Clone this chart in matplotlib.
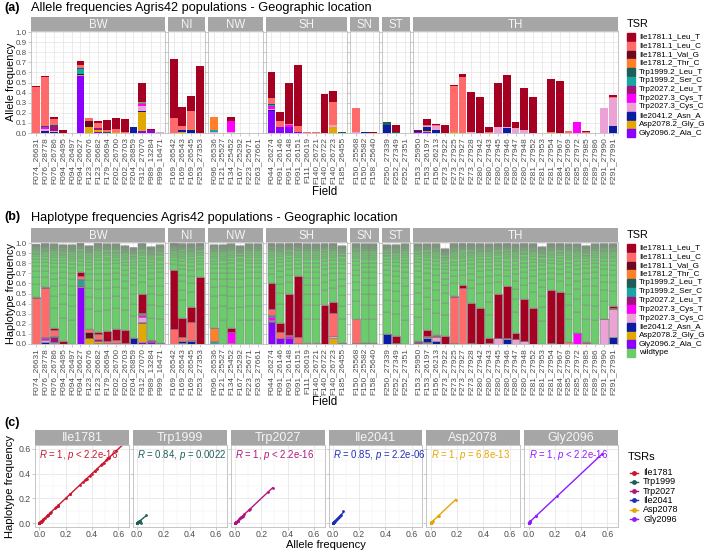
import numpy as np
import matplotlib
matplotlib.use("Agg")
import matplotlib.pyplot as plt
from matplotlib.patches import Rectangle
from matplotlib.lines import Line2D

plt.rcParams['font.family'] = ['Liberation Sans', 'DejaVu Sans']
plt.rcParams['mathtext.fontset'] = 'custom'
plt.rcParams['mathtext.it'] = 'Liberation Sans:italic'
plt.rcParams['mathtext.rm'] = 'Liberation Sans'

# --- fields per region ---
regions = ['BW', 'NI', 'NW', 'SH', 'SN', 'ST', 'TH']
fields_BW = ['F074_26631', 'F076_28778', 'F076_26786', 'F094_26495', 'F094_26497', 'F094_26627',
             'F123_26676', 'F123_26682', 'F179_26694', 'F202_26700', 'F202_26703', 'F204_26859',
             'F312_27070', 'F989_13284', 'F999_16471']
fields_NI = ['F169_26542', 'F169_26543', 'F169_26545', 'F253_27353']
fields_NW = ['F096_26536', 'F121_25527', 'F134_25452', 'F167_25292', 'F223_25671', 'F263_27661']
fields_SH = ['F044_26274', 'F091_26146', 'F091_26148', 'F091_26151', 'F111_26019', 'F140_26721',
             'F140_26722', 'F140_26723', 'F185_26455']
fields_SN = ['F150_25568', 'F150_25582', 'F158_25640']
fields_ST = ['F250_27339', 'F252_27349', 'F252_27351']
fields_TH = ['F153_25950', 'F153_26197', 'F156_26213', 'F273_27922', 'F273_27925', 'F273_27927',
             'F273_27928', 'F280_27942', 'F280_27943', 'F280_27945', 'F280_27946', 'F280_27947',
             'F280_27948', 'F281_27952', 'F281_27953', 'F281_27954', 'F284_27967', 'F285_27969',
             'F285_27972', 'F289_27985', 'F289_27986', 'F291_27990', 'F291_27991']
region_fields = [fields_BW, fields_NI, fields_NW, fields_SH, fields_SN, fields_ST, fields_TH]
all_fields = sum(region_fields, [])

# --- allele frequencies per TSR (order BW | NI | NW | SH | SN | ST | TH) ---
ile1781_leu_t = ([.01, .01, .02, .03, 0, .035, 0, .015, .10, .11, .13, 0, .195, .01, 0]
                 + [.59, .19, .145, .665]
                 + [0, 0, .035, 0, 0, 0]
                 + [.255, .085, .41, .61, 0, 0, .385, .11, 0]
                 + [0, 0, .012]
                 + [0, .065, 0]
                 + [.012, .055, .01, .08, .01, .03, .40, .355, .05, .44, .515, .055, .42, .36, 0,
                    .525, .51, 0, 0, .015, 0, 0, .015])
ile1781_leu_c = ([.46, .48, .06, 0, 0, .03, .03, .05, .02, .03, .01, 0, .005, 0, 0]
                 + [.145, .045, .18, 0]
                 + [.005, 0, .005, 0, 0, 0]
                 + [.055, .06, .015, .055, .008, .008, 0, .235, 0]
                 + [.235, 0, 0]
                 + [0, 0, 0]
                 + [0, .01, .01, 0, .465, .55, 0, 0, .01, 0, 0, 0, 0, 0, 0, 0, 0, .015, 0, .005, 0,
                    0, .01])
ile1781_val_g = ([0, 0, 0, 0, 0, 0, .06, 0, 0, 0, 0, 0, 0, 0, 0]
                 + [0] * 4 + [0] * 6 + [0] * 9 + [0] * 3 + [0] * 3 + [0] * 23)
ile1781_thr_c = ([0] * 15
                 + [0, 0, .01, 0]
                 + [.125, 0, 0, 0, 0, 0]
                 + [0] * 9 + [0] * 3 + [0] * 3
                 + [0] * 15 + [.005] + [0] * 7)
trp1999_leu_t = ([0, .01, .01, 0, 0, .01, 0, 0, .01, 0, 0, 0, .005, 0, 0]
                 + [0] * 4 + [0] * 6
                 + [.01, 0, 0, 0, 0, 0, 0, 0, .012]
                 + [0] * 3
                 + [.03, .01, 0]
                 + [0] * 23)
trp1999_ser_c = ([0, 0, 0, 0, 0, .055, 0, 0, 0, 0, 0, 0, .01, 0, 0]
                 + [0] * 4
                 + [.02, 0, 0, 0, 0, 0]
                 + [.01, 0, 0, 0, 0, 0, 0, 0, 0]
                 + [0] * 3 + [0] * 3 + [0] * 23)
trp2027_leu_t = ([0, 0, .05, 0, 0, 0, 0, .02, 0, 0, 0, 0, 0, .01, 0]
                 + [0] * 4 + [0] * 6 + [0] * 9 + [0] * 3 + [0] * 3 + [0] * 23)
trp2027_cys_t = ([0, .02, 0, 0, 0, 0, 0, 0, 0, 0, 0, 0, .02, 0, .005]
                 + [0] * 4
                 + [0, 0, .105, 0, 0, 0]
                 + [.03, 0, .02, 0, 0, 0, 0, 0, 0]
                 + [0] * 3 + [0] * 3
                 + [.005] + [0] * 17 + [.105] + [0] * 4)
trp2027_cys_c = ([0, .02, .01, 0, 0, 0, 0, 0, 0, 0, 0, 0, .05, 0, .005]
                 + [0] * 4
                 + [.01, 0, .01, 0, 0, 0]
                 + [.01, 0, 0, 0, 0, 0, 0, .02, 0]
                 + [.01, 0, 0]
                 + [0] * 3
                 + [0, .01, .045, 0, 0, 0, .01, 0, 0, .06, .005, .05, .03, 0, 0, 0, 0, 0, 0, 0, 0,
                    .25, .285])
ile2041_asn_a = ([0, .02, .01, 0, 0, .01, 0, 0, 0, 0, 0, .055, .01, 0, 0]
                 + [0, .02, .03, 0]
                 + [0] * 6
                 + [.01, 0, 0, 0, 0, 0, 0, 0, 0]
                 + [0, .012, 0]
                 + [.08, 0, 0]
                 + [.01, .04, .025, 0, 0, 0, 0, 0, 0, 0, .05, 0, 0, 0, 0, 0, 0, 0, 0, 0, 0, 0, .065])
asp2078_gly_g = ([0, 0, 0, 0, 0, .01, .06, .02, 0, .01, 0, 0, .19, 0, 0]
                 + [0, .005, 0, 0]
                 + [0] * 6
                 + [0, 0, 0, 0, 0, 0, 0, .055, 0]
                 + [0] * 3 + [0] * 3
                 + [0, .01, 0, 0, .005] + [0] * 18)
gly2096_ala_c = ([0, 0, 0, 0, 0, .56, 0, .01, 0, 0, 0, 0, .015, .015, 0]
                 + [0] * 4 + [0] * 6
                 + [.22, .06, .055, .01, 0, 0, 0, 0, 0]
                 + [0] * 3 + [0] * 3
                 + [.005, .01] + [0] * 21)

tsr_names = ['Ile1781.1_Leu_T', 'Ile1781.1_Leu_C', 'Ile1781.1_Val_G', 'Ile1781.2_Thr_C',
             'Trp1999.2_Leu_T', 'Trp1999.2_Ser_C', 'Trp2027.2_Leu_T', 'Trp2027.3_Cys_T',
             'Trp2027.3_Cys_C', 'Ile2041.2_Asn_A', 'Asp2078.2_Gly_G', 'Gly2096.2_Ala_C']
tsr_colors = ['#A50021', '#FF6A6A', '#6A0A1E', '#FF7F2A', '#1E5E58', '#1AA5A5',
              '#A3117A', '#FF00FF', '#EBA3D6', '#0A1CA3', '#E0A800', '#8C00FF']
wt_color = '#6CCB6C'
allele = [ile1781_leu_t, ile1781_leu_c, ile1781_val_g, ile1781_thr_c, trp1999_leu_t,
          trp1999_ser_c, trp2027_leu_t, trp2027_cys_t, trp2027_cys_c, ile2041_asn_a,
          asp2078_gly_g, gly2096_ala_c]

# haplotype frequencies: same as allele except these fields
hap_override = {('F250_27339', 'Ile2041.2_Asn_A'): 0.10,
                ('F250_27339', 'Trp1999.2_Leu_T'): 0.0}
# total haplotype frequency covered per field (top of bars in b)
hap_total = ([.985, .99, .99, .98, .98, .99, .97, .995, .99, .99, .97, .955, .99, .96, .98]
             + [.99, .99, .99, .99]
             + [.98, .98, .99, .97, .99, .99]
             + [.99, .99, .99, .99, .99, .99, .99, .99, .97]
             + [.99, .99, .99]
             + [.98, .98, .99]
             + [.99, .99, .99, .94, .99, .99, .99, .99, .99, .99, .99, .99, .99, .99, .96, .99,
                .99, .99, .99, .97, .99, .99, .99])
# share of the wildtype part taken by each wildtype haplotype (bottom to top)
wt_hap_share = [0.24, 0.14, 0.11, 0.09, 0.075, 0.06, 0.05, 0.04, 0.033, 0.027, 0.022, 0.018,
                0.015, 0.012, 0.01, 0.008, 0.007, 0.006, 0.005, 0.004, 0.004, 0.003, 0.003,
                0.003, 0.002, 0.002, 0.002, 0.002]

# panel c
c_names = ['Ile1781', 'Trp1999', 'Trp2027', 'Ile2041', 'Asp2078', 'Gly2096']
c_members = [[0, 1, 2, 3], [4, 5], [6, 7, 8], [9], [10], [11]]
c_colors = ['#C8162E', '#1E5E58', '#B0157F', '#1F2EB8', '#E6A500', '#8F1CFF']
c_r = ['1', '0.84', '1', '0.85', '1', '1']
c_p = ['< 2.2e-16', '= 0.0022', '< 2.2e-16', '= 2.2e-06', '= 6.8e-13', '< 2.2e-16']

hap = [list(a) for a in allele]
for (f, t), v in hap_override.items():
    hap[tsr_names.index(t)][all_fields.index(f)] = v

W, H = 709, 552
fig = plt.figure(figsize=(W / 100, H / 100), dpi=100)
STRIP = '#A6A6A6'
GRID = '#E3E3E3'
TICKC = '#4D4D4D'


def fbox(x0, y0, x1, y1):
    return [x0 / W, 1 - y1 / H, (x1 - x0) / W, (y1 - y0) / H]


def ftext(x, y, s, **kw):
    return fig.text(x / W, 1 - y / H, s, **kw)


def strip(x0, y0, x1, y1, label, size):
    sax = fig.add_axes(fbox(x0, y0, x1, y1))
    sax.set_facecolor(STRIP)
    sax.set_xticks([])
    sax.set_yticks([])
    for s in sax.spines.values():
        s.set_visible(False)
    sax.text(0.5, 0.45, label, ha='center', va='center', color='#F5F5F5', fontsize=size,
             transform=sax.transAxes)


def style(ax):
    for s in ax.spines.values():
        s.set_color('#BDBDBD')
        s.set_linewidth(0.6)
    ax.tick_params(length=2, width=0.5, color='#B3B3B3', labelcolor=TICKC, pad=1)
    ax.set_axisbelow(True)


def bar_panel(top, bottom, strip_top, data, haplo):
    x0, x1, gap = 31, 618, 3
    unit = (x1 - x0 - 6 * gap) / (len(all_fields) + 7 * 0.2)
    x = x0
    start = 0
    for k, (reg, flds) in enumerate(zip(regions, region_fields)):
        n = len(flds)
        w = (n + 0.2) * unit
        ax = fig.add_axes(fbox(x, top, x + w, bottom))
        strip(x, strip_top, x + w, top, reg, 8.3)
        pos = np.arange(n)
        base = np.zeros(n)
        for t in range(len(tsr_names) - 1, -1, -1):
            v = np.array(data[t][start:start + n])
            if haplo:
                ax.bar(pos, v, 0.9, bottom=base, color=tsr_colors[t], edgecolor='#808080', lw=0.4)
            else:
                ax.bar(pos, v, 0.9, bottom=base, color=tsr_colors[t], lw=0)
            base += v
        if haplo:
            share = np.array(wt_hap_share) / sum(wt_hap_share)
            wt = np.array(hap_total[start:start + n]) - base
            for s in share:
                ax.bar(pos, wt * s, 0.9, bottom=base, color=wt_color, edgecolor='#858585', lw=0.35)
                base += wt * s
        ax.set_xlim(-0.6, n - 0.4)
        ax.set_ylim(0, 1.01)
        ax.set_yticks(np.arange(0, 1.01, 0.1))
        ax.set_yticks(np.arange(0.05, 1.0, 0.1), minor=True)
        ax.grid(True, which='major', color=GRID, lw=0.5)
        ax.grid(True, which='minor', axis='y', color='#EFEFEF', lw=0.3)
        ax.set_xticks(pos)
        ax.set_xticklabels(flds, rotation=90, fontsize=6, va='top')
        if k == 0:
            ax.set_yticklabels(['%.1f' % v for v in np.arange(0, 1.01, 0.1)], fontsize=5.8)
        else:
            ax.set_yticklabels([])
            ax.tick_params(axis='y', length=0)
        ax.tick_params(axis='y', which='minor', length=0)
        style(ax)
        x += w + gap
        start += n


def legend(x, y_title, title, labels, colors, pitch, fs_title=7.8, fs=5.9, lines=False):
    ftext(x, y_title, title, fontsize=fs_title, va='center', ha='left')
    for i, (lab, col) in enumerate(zip(labels, colors)):
        yc = y_title + (13 if not lines else 15.5) + i * pitch
        if lines:
            fig.add_artist(Line2D([(x + 2) / W, (x + 10) / W], [1 - yc / H] * 2, color=col, lw=1))
            fig.add_artist(Line2D([(x + 6) / W], [1 - yc / H], marker='o', ms=2.5, color=col,
                                  lw=0))
            ftext(x + 15, yc, lab, fontsize=fs, va='center', ha='left')
        else:
            fig.add_artist(Rectangle(((x) / W, 1 - (yc + 4) / H), 8 / W, 8 / H, color=col,
                                     transform=fig.transFigure))
            ftext(x + 12, yc, lab, fontsize=fs, va='center', ha='left')


# ---- panel a ----
ftext(4, 8, '(a)', fontsize=9, fontweight='bold', va='center')
ftext(31, 8, 'Allele frequencies Agris42 populations - Geographic location', fontsize=9.2,
      va='center')
bar_panel(31, 133, 17, allele, False)
ftext(11, 82, 'Allele frequency', rotation=90, fontsize=7.8, va='center', ha='center')
ftext(325, 192, 'Field', fontsize=8.3, va='center', ha='center')
legend(627, 24, 'TSR', tsr_names, tsr_colors, 8.75)

# ---- panel b ----
ftext(4, 217, '(b)', fontsize=9, fontweight='bold', va='center')
ftext(31, 218, 'Haplotype frequencies Agris42 populations - Geographic location', fontsize=9.2,
      va='center')
bar_panel(242, 344, 228, hap, True)
ftext(11, 293, 'Haplotype frequency', rotation=90, fontsize=7.8, va='center', ha='center')
ftext(325, 402, 'Field', fontsize=8.3, va='center', ha='center')
legend(627, 235, 'TSR', tsr_names + ['wildtype'], tsr_colors + [wt_color], 8.75)

# ---- panel c ----
ftext(4, 423, '(c)', fontsize=9, fontweight='bold', va='center')
cx0, cx1, cgap = 35, 618, 4
cw = (cx1 - cx0 - 5 * cgap) / 6
ctop, cbot = 445, 527
for k, name in enumerate(c_names):
    xa = cx0 + k * (cw + cgap)
    ax = fig.add_axes(fbox(xa, ctop, xa + cw, cbot))
    strip(xa, ctop - 15, xa + cw, ctop, name, 9)
    xs = np.sum([allele[m] for m in c_members[k]], axis=0)
    ys = np.sum([hap[m] for m in c_members[k]], axis=0)
    col = c_colors[k]
    slope, icpt = np.polyfit(xs, ys, 1)
    xl = np.array([xs.min(), xs.max()])
    ax.plot(xl, slope * xl + icpt, color=col, lw=1)
    ax.scatter(xs, ys, s=4, color=col, lw=0, zorder=3)
    ax.text(0.0, 0.555, r'$\it{R}$ = %s, $\it{p}$ %s' % (c_r[k], c_p[k]), color=col,
            fontsize=6.9, ha='left', va='center')
    ax.set_xlim(-0.033, 0.68)
    ax.set_ylim(-0.032, 0.632)
    ax.set_xticks([0, 0.2, 0.4, 0.6])
    ax.set_xticks([0.1, 0.3, 0.5], minor=True)
    ax.set_yticks([0, 0.2, 0.4, 0.6])
    ax.set_yticks([0.1, 0.3, 0.5], minor=True)
    ax.set_xticklabels(['0.0', '0.2', '0.4', '0.6'], fontsize=6.3)
    if k == 0:
        ax.set_yticklabels(['0.0', '0.2', '0.4', '0.6'], fontsize=6.3)
    else:
        ax.set_yticklabels([])
        ax.tick_params(axis='y', length=0)
    ax.tick_params(which='minor', length=0)
    ax.grid(True, which='major', color=GRID, lw=0.5)
    ax.grid(True, which='minor', color='#EFEFEF', lw=0.3)
    style(ax)
    ax.tick_params(axis='x', pad=0.5)
ftext(10, 486, 'Haplotype frequency', rotation=90, fontsize=8, va='center', ha='center')
ftext(326, 545, 'Allele frequency', fontsize=8, va='center', ha='center')
legend(628, 457, 'TSRs', c_names, c_colors, 9.3, fs_title=8, fs=6.5, lines=True)

fig.savefig('out.png', dpi=100)
